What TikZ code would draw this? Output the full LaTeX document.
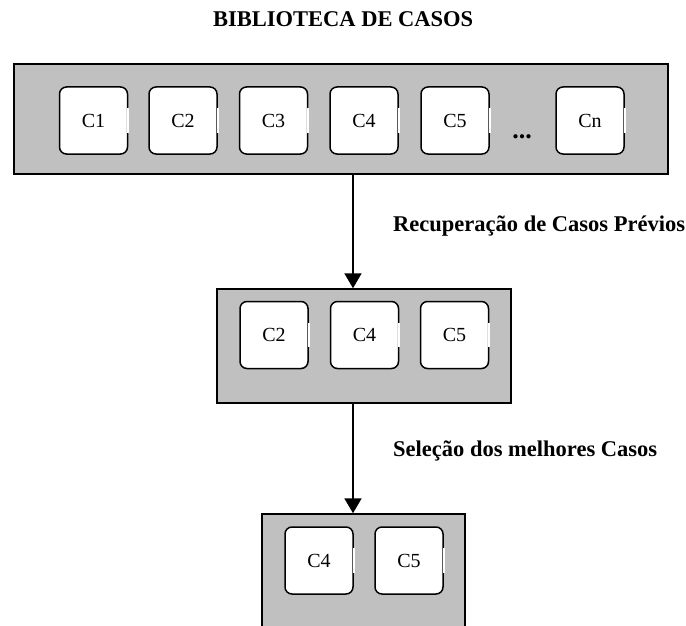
\documentclass[tikz,border=0pt]{standalone}
\usepackage{fontspec}
\setmainfont{Liberation Serif}
\usetikzlibrary{arrows.meta}
\definecolor{panelgray}{HTML}{C0C0C0}
\tikzset{
  panel/.style={draw=black, fill=panelgray, line width=1.5pt, inner sep=0pt},
  cbox/.style={draw=black, fill=white, line width=1.5pt, rounded corners=7pt,
    minimum width=68pt, minimum height=67pt, inner sep=0pt,
    font=\fontsize{20}{24}\selectfont},
  lbl/.style={font=\fontsize{22.5}{26}\selectfont\bfseries, inner sep=0pt, anchor=base west},
  arr/.style={line width=2pt, -{Triangle[width=17pt,length=15pt]}},
}
\newcommand{\notch}[1]{\fill[white] ([xshift=-1.2pt,yshift=-22pt]#1.north east) rectangle ([xshift=1.2pt,yshift=22pt]#1.south east);}
\begin{document}
\begin{tikzpicture}[x=1pt,y=-1pt]
\useasboundingbox (0,0) rectangle (686,626);
\clip (0,0) rectangle (686,626);
% title
\node[lbl] (title) at (213,26.7) {BIBLIOTECA DE CASOS};
% panels
\node[panel, minimum width=654pt, minimum height=110pt] (lib) at (341,119) {};
\node[panel, minimum width=294pt, minimum height=114pt] (mid) at (364,346) {};
\node[panel, minimum width=203pt, minimum height=126pt] (bot) at (363.5,577) {};
% top cases
\node[cbox] (t1) at (93.5,120.5) {C1};
\node[cbox] (t2) at (183,120.5) {C2};
\node[cbox] (t3) at (273.5,120.5) {C3};
\node[cbox] (t4) at (364,120.5) {C4};
\node[cbox] (t5) at (455,120.5) {C5};
\node[cbox] (tn) at (590,120.5) {Cn};
\node[font=\fontsize{26}{28}\selectfont\bfseries, inner sep=0pt, anchor=base] (dots) at (522,139) {...};
\notch{t1}\notch{t2}\notch{t3}\notch{t4}\notch{t5}\notch{tn}
% middle cases
\node[cbox] (m2) at (274,335) {C2};
\node[cbox] (m4) at (364.5,335) {C4};
\node[cbox] (m5) at (454.5,335) {C5};
\notch{m2}\notch{m4}\notch{m5}
% bottom cases
\node[cbox] (b4) at (319,560.5) {C4};
\node[cbox] (b5) at (409,560.5) {C5};
\notch{b4}\notch{b5}
% arrows
\coordinate (a1) at (353,0);
\draw[arr] (a1 |- lib.south) -- (a1 |- mid.north);
\draw[arr] (a1 |- mid.south) -- (a1 |- bot.north);
% labels
\node[lbl] (l1) at (393,231.5) {Recuperação de Casos Prévios};
\node[lbl] (l2) at (393,456) {Seleção dos melhores Casos};
\end{tikzpicture}
\end{document}
